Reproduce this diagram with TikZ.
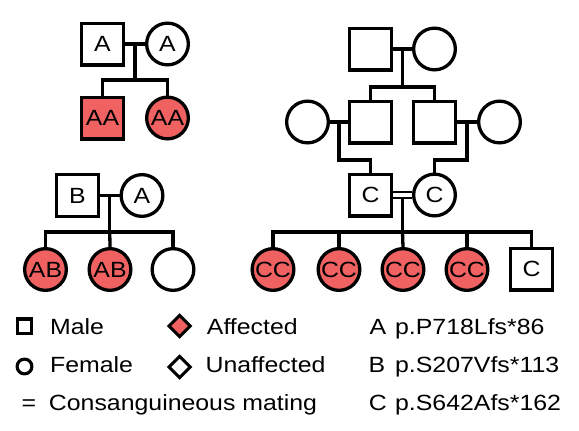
\documentclass[tikz,border=0pt]{standalone}
\usepackage{fontspec}
\setmainfont[FakeStretch=1.13]{Liberation Sans}
\usetikzlibrary{calc,shapes.geometric}
\definecolor{aff}{RGB}{240,98,98}
\newcommand\pedfont{\fontsize{22}{26}\selectfont}
\newcommand\legfont{\fontsize{22}{26}\selectfont}
\begin{document}
\begin{tikzpicture}[x=1pt,y=-1pt,line width=3.3pt,line join=miter,
  male/.style={draw,rectangle,minimum size=41.7pt,inner sep=0pt,font=\pedfont},
  female/.style={draw,circle,minimum size=41.7pt,inner sep=0pt,font=\pedfont},
  affected/.style={fill=aff},
  legtext/.style={anchor=base west,inner sep=0pt,font=\legfont},
  legsym/.style={draw,line width=3.1pt,inner sep=0pt},
  thinline/.style={line width=2pt}]
\useasboundingbox (0,0) rectangle (579,431);

% ---------- Family A ----------
\node[male] (a1) at (102.5,44) {A};
\node[female] (a2) at (167.5,44) {A};
\node[male,affected] (a3) at (102.5,118) {AA};
\node[female,affected] (a4) at (167.5,118) {AA};
\coordinate (am) at ($(a1.east)!0.5!(a2.west)$);
\coordinate (as) at ($(am)+(0,36)$);
\draw (a1) -- (a2);
\draw (am) -- (as);
\draw (a3.north) |- (as) -| (a4.north);

% ---------- Family B ----------
\node[male] (b1) at (77.5,195.5) {B};
\node[female] (b2) at (142,195.5) {A};
\node[female,affected] (b3) at (45.5,269.5) {AB};
\node[female,affected] (b4) at (110,269.5) {AB};
\node[female] (b5) at (173,269.5) {};
\coordinate (bm) at ($(b1.east)!0.5!(b2.west)$);
\coordinate (bs) at ($(bm)+(0,36.5)$);
\draw (b1) -- (b2);
\draw (bm) -- (bs);
\draw (b3.north) |- (bs) -| (b5.north);
\draw (bs) -- (b4.north);

% ---------- Family C ----------
\node[male] (c1) at (370.5,49) {};
\node[female] (c2) at (434.5,49) {};
\coordinate (cm) at ($(c1.east)!0.5!(c2.west)$);
\coordinate (cs) at ($(cm)+(0,38)$);
\draw (c1) -- (c2);
\draw (cm) -- (cs);

\node[female] (c3) at (307.5,122) {};
\node[male] (c4) at (370.5,122) {};
\node[male] (c5) at (434.5,122) {};
\node[female] (c6) at (499.5,122) {};
\draw (c4.north) |- (cs) -| (c5.north);
\draw (c3) -- (c4);
\draw (c5) -- (c6);
\coordinate (lm) at ($(c3.east)!0.5!(c4.west)$);
\coordinate (rm) at ($(c5.east)!0.5!(c6.west)$);
\coordinate (ld) at ($(lm)+(0,38)$);
\coordinate (rd) at ($(rm)+(0,38)$);

\node[male] (c7) at (370.5,195) {C};
\node[female] (c8) at (434.5,195) {C};
\draw (lm) -- (ld) -| (c7.north);
\draw (rm) -- (rd) -| (c8.north);
\draw[thinline] ([yshift=2.8pt]c7.east) -- ([yshift=2.8pt]c8.west);
\draw[thinline] ([yshift=-2.8pt]c7.east) -- ([yshift=-2.8pt]c8.west);
\coordinate (cm2) at ($($(c7.east)!0.5!(c8.west)$)+(0,2.8)$);
\coordinate (cs2) at ($(cm2)+(0,34.2)$);
\draw (cm2) -- (cs2);

\node[female,affected] (c9) at (273,269.5) {CC};
\node[female,affected] (c10) at (339,269.5) {CC};
\node[female,affected] (c11) at (403,269.5) {CC};
\node[female,affected] (c12) at (467,269.5) {CC};
\node[male] (c13) at (531.5,269) {C};
\draw (c9.north) |- (cs2) -| (c13.north);
\draw (cs2) -- (c11.north);
\draw (c10.north) -- (c10.north |- cs2);
\draw (c12.north) -- (c12.north |- cs2);

% ---------- Legend ----------
\node[legsym,rectangle,minimum size=14.6pt] (lsq) at (24.5,326.3) {};
\node[legsym,circle,minimum size=14.8pt] (lci) at (24.5,366.5) {};
\node[legtext] (leq) at (20,410) {=};
\node[legtext] (tmale) at (48.5,334) {Male};
\node[legtext] (tfem) at (48.5,372.8) {Female};
\node[legtext] (tcon) at (47.3,410.3) {Consanguineous mating};

\node[legsym,diamond,fill=aff,minimum size=22.5pt] (ldA) at (179.6,326) {};
\node[legsym,diamond,minimum size=22.5pt] (ldU) at (179.6,367) {};
\node[legtext] (taff) at (205.3,334) {Affected};
\node[legtext] (tunaff) at (204,372.8) {Unaffected};

\node[legtext] (kA) at (368,334) {A};
\node[legtext] (kB) at (367,372.8) {B};
\node[legtext] (kC) at (367.3,410.3) {C};
\node[legtext] (vA) at (393.5,334) {p.P718Lfs*86};
\node[legtext] (vB) at (393.5,372.8) {p.S207Vfs*113};
\node[legtext] (vC) at (393.5,410.3) {p.S642Afs*162};
\end{tikzpicture}
\end{document}
